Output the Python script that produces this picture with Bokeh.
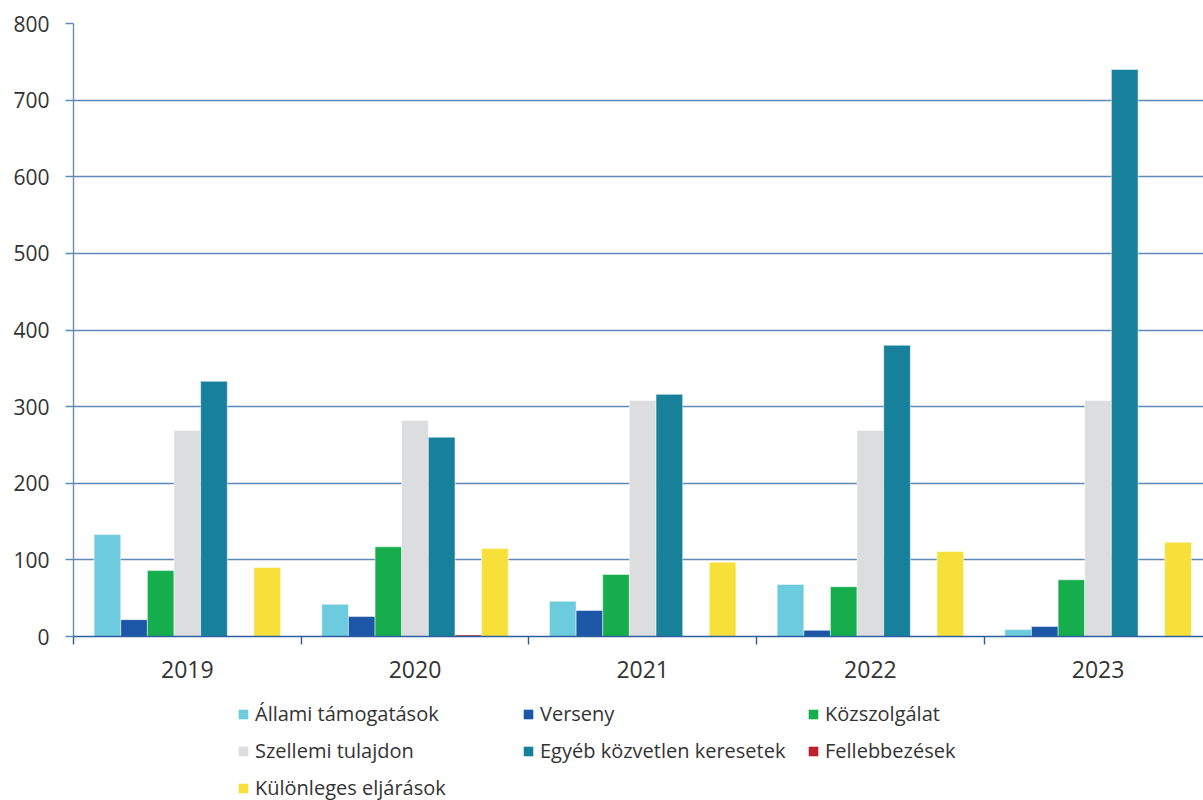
from bokeh.plotting import figure
from bokeh.models import (ColumnDataSource, Range1d, FixedTicker, Legend, LegendItem)
from bokeh.layouts import column
from bokeh.transform import dodge
from bokeh.embed import file_html
from bokeh.resources import INLINE

years = ["2019", "2020", "2021", "2022", "2023"]
series_names = ["Állami támogatások", "Verseny", "Közszolgálat", "Szellemi tulajdon",
                "Egyéb közvetlen keresetek", "Fellebbezések", "Különleges eljárások"]
allami = [133, 42, 46, 68, 9]
verseny = [22, 26, 34, 8, 13]
kozszolgalat = [86, 117, 81, 65, 74]
szellemi = [269, 282, 308, 269, 308]
egyeb = [333, 260, 316, 380, 740]
fellebbezesek = [0, 2, 0, 0, 0]
kulonleges = [90, 115, 97, 111, 123]
colors = ["#6ccbdc", "#1c56a6", "#16ad4d", "#dcdddf", "#17819b", "#c0202a", "#f7e03a"]

FONT = "Open Sans"
series = [allami, verseny, kozszolgalat, szellemi, egyeb, fellebbezesek, kulonleges]
centers = [i + 0.5 for i in range(len(years))]

data = {"x": centers}
for k, vals in enumerate(series):
    data[f"s{k}"] = vals
src = ColumnDataSource(data)

GRID = "#5e89b8"

p = figure(width=1203, height=684, x_range=Range1d(0, 4.963), y_range=Range1d(0, 800),
           output_backend="svg", toolbar_location=None,
           min_border_left=73, min_border_right=0, min_border_top=23, min_border_bottom=48)
p.outline_line_color = None
p.background_fill_color = "white"

bw = 0.117
for k in range(7):
    p.vbar(x=dodge("x", (k - 3) * bw, range=p.x_range), top=f"s{k}", width=bw,
           source=src, fill_color=colors[k], line_color="white", line_width=0.8,
           line_alpha=0.6)

# grid
p.xgrid.visible = False
p.ygrid.ticker = FixedTicker(ticks=list(range(0, 801, 100)))
p.ygrid.grid_line_color = GRID
p.ygrid.grid_line_width = 1.4
p.ygrid.level = "underlay"

# y axis
ya = p.yaxis[0]
ya.ticker = FixedTicker(ticks=list(range(0, 801, 100)))
ya.major_tick_out = 8
ya.major_tick_in = 0
ya.major_tick_line_color = GRID
ya.major_tick_line_width = 1.4
ya.minor_tick_line_color = None
ya.axis_line_color = "#6a8db5"
ya.axis_line_width = 1.4
ya.major_label_text_font = FONT
ya.major_label_text_font_size = "21px"
ya.major_label_text_color = "#333333"
ya.major_label_standoff = 16

# x axis
xa = p.xaxis[0]
xa.ticker = FixedTicker(ticks=centers, minor_ticks=[0, 1, 2, 3, 4, 5])
xa.major_label_overrides = {c: y for c, y in zip(centers, years)}
xa.major_tick_out = 0
xa.major_tick_in = 0
xa.minor_tick_out = 8
xa.minor_tick_in = 0
xa.minor_tick_line_color = "#2d5f9e"
xa.minor_tick_line_width = 1.4
xa.axis_line_color = "#2d5f9e"
xa.axis_line_width = 1.6
xa.major_label_text_font = FONT
xa.major_label_text_font_size = "23px"
xa.major_label_text_color = "#333333"
xa.major_label_standoff = 16

# legend figure below the chart (its bars lie outside its view; only the legend shows)
lf = figure(width=1203, height=116, x_range=Range1d(0, 1), y_range=Range1d(5000, 5001),
            output_backend="svg", toolbar_location=None,
            x_axis_location=None, y_axis_location=None,
            min_border_left=73, min_border_right=0, min_border_top=0, min_border_bottom=0)
lf.grid.visible = False
lf.outline_line_color = None
leg_renderers = [lf.vbar(x="x", top=f"s{k}", width=0.01, source=src,
                         fill_color=c, line_color=None) for k, c in enumerate(colors)]
items = [LegendItem(label=n, renderers=[r]) for n, r in zip(series_names, leg_renderers)]
row_offsets = [73, 36, -1]
for row in range(3):
    lg = Legend(items=items[row * 3:(row + 1) * 3], orientation="horizontal",
                location=(164, row_offsets[row]), border_line_color=None,
                background_fill_alpha=0,
                label_text_font=FONT, label_text_font_size="20px",
                label_text_color="#333333", glyph_width=12, glyph_height=12,
                label_standoff=6, spacing=0, label_width=267, label_height=26,
                padding=0, margin=0)
    lf.add_layout(lg, "center")

layout = column(p, lf, spacing=0)
open("out.html", "w").write(file_html(layout, INLINE))
